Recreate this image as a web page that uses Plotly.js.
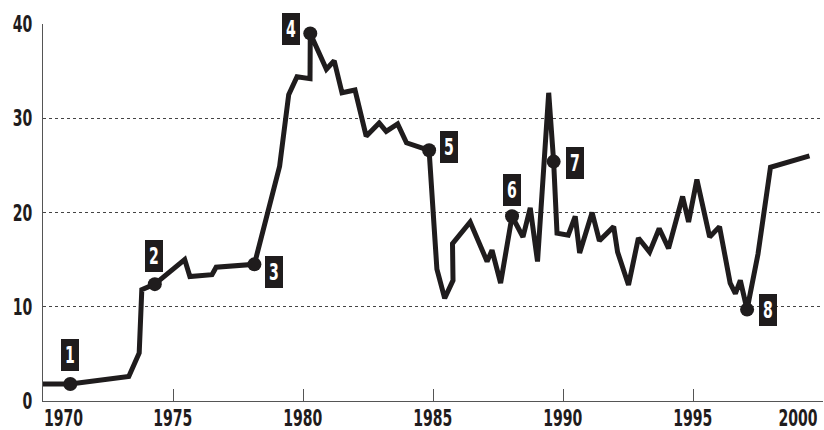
<!DOCTYPE html>
<html>
<head>
<meta charset="utf-8">
<script src="https://cdn.plot.ly/plotly-3.0.1.min.js"></script>
<style>
  html, body { margin: 0; padding: 0; background: #ffffff; }
  #chart { width: 824px; height: 430px; }
</style>
</head>
<body>
<div id="chart"></div>
<script>
// ---- data ----
const years = [1970, 1971.05, 1973.3, 1973.7, 1973.8, 1974.0, 1974.3, 1975.45, 1975.65, 1976.5,
  1976.66, 1978.13, 1979.1, 1979.45, 1979.77, 1980.27, 1980.28, 1980.9, 1981.2, 1981.5,
  1982.0, 1982.43, 1982.93, 1983.2, 1983.64, 1983.98, 1984.85, 1985.15, 1985.45, 1985.77,
  1985.75, 1986.43, 1987.08, 1987.27, 1987.6, 1988.04, 1988.46, 1988.74, 1989.02, 1989.45,
  1989.64, 1989.77, 1990.2, 1990.47, 1990.64, 1991.12, 1991.4, 1991.95, 1992.1, 1992.52,
  1992.9, 1993.33, 1993.7, 1994.06, 1994.6, 1994.83, 1995.15, 1995.64, 1996.02, 1996.43,
  1996.63, 1996.82, 1997.08, 1997.5, 1997.98, 1999.48];
const values = [1.8, 1.8, 2.6, 5.1, 11.8, 12.1, 12.4, 15.0, 13.2, 13.4,
  14.2, 14.5, 24.9, 32.5, 34.4, 34.2, 39.0, 35.2, 36.1, 32.7,
  33.0, 28.1, 29.5, 28.6, 29.4, 27.4, 26.6, 14.0, 10.9, 12.8,
  16.7, 19.0, 14.8, 16.0, 12.5, 19.6, 17.4, 20.5, 14.8, 32.7,
  25.4, 17.8, 17.6, 19.6, 15.7, 20.0, 17.0, 18.5, 15.8, 12.3,
  17.3, 15.8, 18.3, 16.2, 21.7, 19.0, 23.5, 17.4, 18.5, 12.5,
  11.4, 12.8, 9.7, 15.6, 24.8, 26.0];
const markerYears  = [1971.05, 1974.3, 1978.13, 1980.28, 1984.85, 1988.04, 1989.64, 1997.08];
const markerValues = [1.8, 12.4, 14.5, 39.0, 26.6, 19.6, 25.4, 9.7];
const markerLabels = ['1', '2', '3', '4', '5', '6', '7', '8'];
const xTickVals = [1970, 1975, 1980, 1985, 1990, 1995, 2000];
const xTickText = ['1970', '1975', '1980', '1985', '1990', '1995', '2000'];
const yTickVals = [0, 10, 20, 30, 40];
const yTickText = ['0', '10', '20', '30', '40'];

// ---- styling ----
const INK = '#1f1c1d';
const FONT = '"DejaVu Sans Condensed", "DejaVu Sans", sans-serif';
const FSIZE = 23;
const SQUEEZE = 0.68;   // narrow the glyphs to imitate the condensed face of the original
// label box offsets in pixels relative to the dot [xshift, yshift]
const labelShift = [[0, 29], [-1, 28], [20, -8], [-19, 4], [20, 3], [0, 26], [21, -1], [21, 0]];

const traces = [
  {
    x: years, y: values, type: 'scatter', mode: 'lines',
    line: { color: INK, width: 5 }, hoverinfo: 'skip', cliponaxis: false
  },
  {
    x: markerYears, y: markerValues, type: 'scatter', mode: 'markers',
    marker: { color: INK, size: 14 }, hoverinfo: 'skip', cliponaxis: false
  }
];

const annotations = [];
markerLabels.forEach((t, i) => {
  annotations.push({
    x: markerYears[i], y: markerValues[i], xref: 'x', yref: 'y',
    text: t, showarrow: false, xanchor: 'center', yanchor: 'middle',
    xshift: labelShift[i][0], yshift: labelShift[i][1],
    bgcolor: INK, borderpad: 2, borderwidth: 0, width: 14, height: 28,
    font: { family: FONT, size: FSIZE, color: '#ffffff', weight: 'bold' }
  });
});
xTickVals.forEach((v, i) => {
  let anchor = 'center', shift = 0;
  if (i === 0) { anchor = 'left'; shift = 0; }
  if (i === xTickVals.length - 1) { anchor = 'right'; shift = -4; }
  annotations.push({
    x: v, y: 0, xref: 'x', yref: 'paper', text: xTickText[i], showarrow: false,
    xanchor: anchor, align: anchor, yanchor: 'top', valign: 'top', xshift: shift, yshift: -3,
    borderpad: 0, height: 24,
    font: { family: FONT, size: FSIZE, color: INK, weight: 'bold' }
  });
});

const layout = {
  width: 824, height: 430,
  margin: { l: 43, r: 1, t: 24, b: 29, pad: 0 },
  paper_bgcolor: '#ffffff', plot_bgcolor: '#ffffff',
  showlegend: false,
  xaxis: {
    range: [1970, 2000], tickvals: xTickVals, ticktext: xTickText,
    showticklabels: false, ticks: 'inside', ticklen: 12, tickwidth: 1, tickcolor: '#555',
    showgrid: false, zeroline: false, showline: true, linecolor: '#555', linewidth: 1,
    fixedrange: true
  },
  yaxis: {
    range: [0, 40], tickvals: yTickVals, ticktext: yTickText,
    ticks: '', ticklabelstandoff: 5,
    tickfont: { family: FONT, size: FSIZE, color: INK, weight: 'bold' },
    showgrid: true, gridcolor: '#444', gridwidth: 1, griddash: '3px,3px',
    zeroline: false, showline: true, linecolor: '#555', linewidth: 1,
    fixedrange: true
  },
  annotations: annotations
};

Plotly.newPlot('chart', traces, layout, { displayModeBar: false, staticPlot: true }).then(() => {
  document.querySelectorAll('#chart svg text').forEach(t => {
    const w = t.getComputedTextLength();
    if (w > 0) {
      t.setAttribute('textLength', (w * SQUEEZE).toFixed(2));
      t.setAttribute('lengthAdjust', 'spacingAndGlyphs');
    }
  });
});
</script>
</body>
</html>
